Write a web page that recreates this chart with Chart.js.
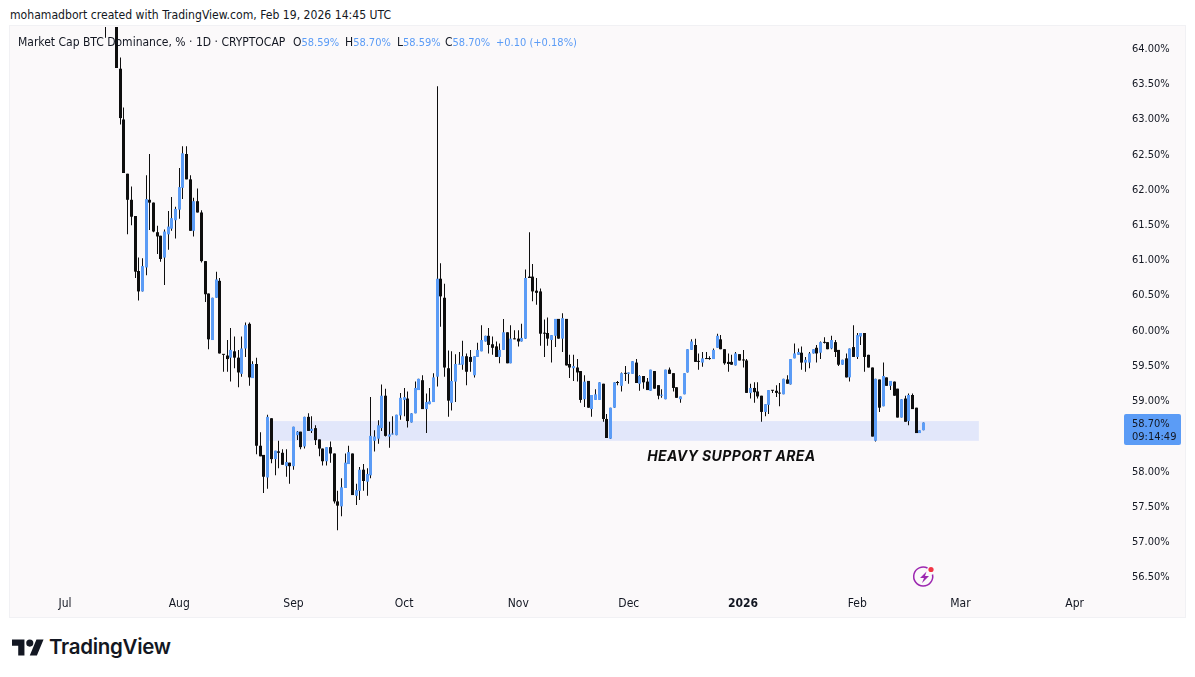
<!DOCTYPE html>
<html lang="en">
<head>
<meta charset="utf-8">
<title>Market Cap BTC Dominance</title>
<script src="https://cdn.jsdelivr.net/npm/chart.js@4"></script>
<style>
    html, body { margin: 0; padding: 0; background: #ffffff; }
    body { width: 1195px; height: 677px; position: relative; overflow: hidden; font-family: "DejaVu Sans Condensed", "Noto Sans", sans-serif; color: #131722; }
    #creado { position: absolute; left: 10px; top: 7px; font-size: 12.1px; line-height: 16px; white-space: nowrap; }
    #panel { position: absolute; left: 10px; top: 26px; width: 1175px; height: 591px; background: #fbf9fa; box-shadow: 0 0 0 1px #f1f1f4; }
    #caja { position: absolute; left: 0; top: 1px; width: 1175px; height: 590px; }
    .ley { position: absolute; top: 34px; font-size: 12px; line-height: 16px; white-space: nowrap; }
    .ley b { font-weight: 400; font-size: 11px; color: #5b9cf6; }
    #rayo { position: absolute; left: 912px; top: 565px; }
    #logo { position: absolute; left: 12px; top: 636px; }
    #marca { position: absolute; left: 49px; top: 633px; font-family: Inter, sans-serif; font-weight: 600; font-size: 20.5px; line-height: 28px; letter-spacing: -0.3px; color: #131722; }
</style>
</head>
<body>
<div id="creado">mohamadbort created with TradingView.com, Feb 19, 2026 14:45 UTC</div>
<div id="panel"><div id="caja"><canvas id="chartDominancia"></canvas></div></div>
<div class="ley" style="left:18px">Market Cap BTC Dominance, % · 1D · CRYPTOCAP</div>
<div class="ley" style="left:293px">O<b>58.59%</b></div>
<div class="ley" style="left:345px">H<b>58.70%</b></div>
<div class="ley" style="left:397px">L<b>58.59%</b></div>
<div class="ley" style="left:445px">C<b>58.70%</b></div>
<div class="ley" style="left:496px"><b>+0.10 (+0.18%)</b></div>
<svg id="rayo" width="26" height="24" viewBox="0 0 26 24">
    <path d="M20.5 9.5 A9.5 9.5 0 1 1 15.5 3" fill="none" stroke="#9c27b0" stroke-width="1.5"/>
    <path d="M14.5 6.5 L8 13 L12 13 L10 18 L17 11 L13 11 Z" fill="#9c27b0"/>
    <circle cx="19" cy="4.5" r="2.6" fill="#f23645"/>
</svg>
<svg id="logo" width="32" height="24" viewBox="0 0 36 27">
    <path d="M14 22H7V11H0V4h14v18zM28 22h-8l7.5-18h8L28 22z" fill="#131722"/>
    <circle cx="20" cy="8" r="4" fill="#131722"/>
</svg>
<div id="marca">TradingView</div>

<script>
// Velas diarias, la primera es del 12 jul 2025
const primeraVela = '2025-07-12';
const origenDias = '2025-07-01';

const opens = [
    65.10,64.95,64.80,64.60,63.72,63.00,62.23,61.86,61.63,60.85,
    60.56,60.90,61.86,61.82,61.40,61.35,61.04,61.37,61.45,61.57,
    61.72,62.03,62.51,62.15,61.42,61.84,61.68,60.99,60.53,59.87,
    60.47,60.71,59.67,59.65,59.62,59.71,59.62,59.39,59.75,60.10,
    59.33,59.53,58.37,58.24,57.92,58.76,58.18,58.29,58.27,58.08,
    58.13,58.08,58.52,58.57,58.36,58.78,58.58,58.62,58.46,58.33,
    58.15,58.35,58.26,57.58,57.51,57.77,58.11,58.26,57.66,57.73,
    58.03,57.86,57.95,58.44,58.47,58.62,59.08,58.50,58.53,58.52,
    58.80,59.02,59.04,58.70,58.83,59.16,59.30,58.89,58.96,58.99,
    59.35,60.74,60.47,59.47,58.98,59.28,59.52,59.52,59.64,59.63,
    59.37,59.63,59.71,59.85,59.93,59.81,59.78,59.63,59.73,59.98,
    59.54,59.89,59.89,59.85,59.89,60.77,60.77,60.57,60.56,59.97,
    59.97,59.87,59.93,60.17,59.89,60.17,59.53,59.47,59.48,59.43,
    59.03,59.29,58.89,59.02,59.02,59.25,58.75,58.47,58.91,59.27,
    59.22,59.40,59.39,59.39,59.55,59.25,59.36,59.28,59.15,59.43,
    59.23,59.08,59.03,59.45,59.40,59.20,59.03,59.10,59.41,59.73,
    59.80,59.57,59.55,59.61,59.61,59.60,59.76,59.88,59.74,59.56,
    59.56,59.51,59.67,59.59,59.58,59.12,59.19,59.14,59.08,58.85,
    58.95,59.16,59.15,59.12,59.10,59.31,59.24,59.61,59.66,59.69,
    59.55,59.55,59.68,59.76,59.69,59.84,59.84,59.75,59.84,59.73,
    59.52,59.61,59.34,59.77,59.63,59.92,59.97,59.66,59.48,58.44,
    59.31,58.93,59.34,59.22,59.28,59.18,58.77,59.04,58.72,59.09,
    58.91,58.55,58.59
];
const highs = [
    65.25,65.10,64.95,64.80,63.88,63.17,62.23,62.05,61.63,61.04,
    61.03,62.21,62.51,61.82,61.49,61.35,61.44,61.70,61.90,61.76,
    62.31,62.62,62.62,62.21,61.89,62.02,61.71,60.99,60.53,60.47,
    60.84,60.75,59.67,59.87,60.04,59.92,59.73,59.92,60.12,60.12,
    59.57,59.62,58.56,58.24,58.81,58.76,58.30,58.44,58.32,58.32,
    58.13,58.64,58.58,58.57,58.78,58.83,58.79,58.66,58.46,58.33,
    58.35,58.43,58.26,57.73,57.91,58.26,58.37,58.26,57.83,58.07,
    58.11,58.05,59.06,58.59,58.73,59.24,59.18,58.71,58.79,58.81,
    59.12,59.19,59.14,58.83,59.28,59.32,59.37,59.11,59.19,59.40,
    63.47,60.96,60.67,59.72,59.71,59.67,59.70,59.86,59.68,59.73,
    59.64,59.83,60.08,59.93,60.04,59.92,59.85,59.82,60.17,59.98,
    60.08,60.01,60.01,60.10,60.87,61.40,60.95,60.75,60.60,60.16,
    60.19,59.94,60.17,60.17,60.25,60.17,59.66,59.66,59.60,59.43,
    59.37,59.29,59.09,59.17,59.27,59.25,58.82,58.91,59.27,59.29,
    59.41,59.50,59.41,59.57,59.60,59.37,59.36,59.33,59.45,59.43,
    59.23,59.17,59.45,59.48,59.40,59.20,59.07,59.40,59.74,59.88,
    59.89,59.68,59.70,59.70,59.64,59.75,59.96,59.94,59.74,59.68,
    59.66,59.70,59.67,59.73,59.60,59.25,59.27,59.27,59.08,58.96,
    59.16,59.16,59.23,59.26,59.32,59.37,59.60,59.82,59.75,59.78,
    59.63,59.70,59.74,59.80,59.85,59.91,59.84,59.93,59.87,59.73,
    59.59,59.68,59.75,60.08,59.97,59.97,59.97,59.66,59.48,59.32,
    59.31,59.55,59.34,59.29,59.28,59.18,59.03,59.08,59.11,59.11,
    58.91,58.59,58.70
];
const lows = [
    64.16,64.70,64.50,63.73,62.93,62.24,61.37,61.50,60.75,60.43,
    60.56,60.79,61.43,61.40,61.09,60.98,60.65,61.15,61.42,61.31,
    61.59,61.87,62.15,61.42,61.34,61.68,60.97,60.41,59.74,59.87,
    60.47,59.68,59.42,59.42,59.28,59.47,59.20,59.35,59.63,59.22,
    59.33,58.25,58.22,57.70,57.76,58.12,57.95,58.05,58.10,57.93,
    57.83,58.03,58.45,58.32,58.33,58.58,58.55,58.38,58.22,58.09,
    58.09,58.13,57.55,57.17,57.37,57.77,58.11,57.67,57.53,57.60,
    57.73,57.66,57.91,58.29,58.40,58.58,58.50,58.34,58.53,58.52,
    58.74,58.79,58.63,58.70,58.83,59.16,58.89,58.55,58.96,58.99,
    59.21,60.06,59.35,58.78,58.87,58.99,59.52,59.45,59.23,59.42,
    59.34,59.63,59.71,59.85,59.68,59.66,59.63,59.54,59.73,59.54,
    59.54,59.88,59.78,59.85,59.89,60.75,60.42,60.37,59.79,59.63,
    59.79,59.55,59.77,59.89,59.70,59.51,59.33,59.29,59.28,58.98,
    58.92,58.91,58.78,59.02,59.02,58.71,58.48,58.47,58.91,59.23,
    59.14,59.29,59.25,59.39,59.26,59.15,59.18,59.16,59.15,59.18,
    59.03,59.05,59.03,59.39,59.14,59.05,58.98,59.10,59.41,59.73,
    59.56,59.45,59.49,59.60,59.59,59.60,59.76,59.74,59.52,59.42,
    59.52,59.51,59.58,59.48,59.12,59.04,58.98,59.04,58.71,58.79,
    58.82,59.12,59.06,58.93,59.10,59.25,59.24,59.61,59.66,59.45,
    59.42,59.47,59.68,59.55,59.60,59.82,59.74,59.74,59.63,59.50,
    59.52,59.34,59.28,59.63,59.60,59.80,59.42,59.48,58.50,58.43,
    58.85,58.93,59.22,59.16,59.08,58.77,58.77,58.71,58.66,58.89,
    58.55,58.55,58.59
];
const closes = [
    64.95,64.80,64.60,63.73,63.02,62.24,61.86,61.62,60.84,60.56,
    60.92,61.87,61.82,61.41,61.34,61.02,61.41,61.48,61.60,61.73,
    62.04,62.52,62.15,61.42,61.84,61.68,60.99,60.52,59.88,60.47,
    60.73,59.68,59.66,59.60,59.73,59.62,59.41,59.75,60.08,59.34,
    59.53,58.37,58.22,57.93,58.78,58.18,58.30,58.27,58.10,58.14,
    58.08,58.64,58.57,58.35,58.78,58.58,58.61,58.45,58.33,58.15,
    58.35,58.26,57.58,57.52,57.78,58.13,58.28,57.67,57.74,58.03,
    57.87,57.97,58.51,58.50,58.66,59.08,58.51,58.53,58.54,58.81,
    59.05,59.06,58.72,58.83,59.19,59.32,58.89,58.99,59.00,59.34,
    60.74,60.49,59.48,59.01,59.29,59.53,59.53,59.64,59.42,59.56,
    59.64,59.73,59.87,59.93,59.80,59.76,59.63,59.73,59.98,59.54,
    59.89,59.88,59.85,59.90,60.75,60.75,60.56,60.54,59.96,59.96,
    59.89,59.94,60.17,59.89,60.18,59.51,59.48,59.50,59.41,59.02,
    59.28,58.91,59.09,59.10,59.27,58.75,58.48,58.91,59.27,59.26,
    59.40,59.39,59.41,59.57,59.26,59.36,59.27,59.16,59.45,59.18,
    59.08,59.09,59.45,59.39,59.19,59.05,59.07,59.40,59.74,59.85,
    59.56,59.56,59.61,59.60,59.60,59.73,59.93,59.74,59.54,59.53,
    59.52,59.68,59.58,59.58,59.12,59.19,59.13,59.07,58.85,58.96,
    59.16,59.15,59.12,59.11,59.32,59.25,59.60,59.68,59.70,59.55,
    59.59,59.68,59.74,59.68,59.84,59.83,59.74,59.87,59.70,59.52,
    59.59,59.34,59.75,59.63,59.94,59.97,59.63,59.48,58.50,59.32,
    58.91,59.36,59.22,59.29,59.08,58.77,59.03,58.71,59.09,58.89,
    58.55,58.59,58.70
];

const mesesFechas = ['2025-07-01','2025-08-01','2025-09-01','2025-10-01','2025-11-01','2025-12-01','2026-01-01','2026-02-01','2026-03-01','2026-04-01'];
const mesesEtiquetas = ['Jul','Aug','Sep','Oct','Nov','Dec','2026','Feb','Mar','Apr'];
const preciosEje = [56.5,57,57.5,58,58.5,59,59.5,60,60.5,61,61.5,62,62.5,63,63.5,64];

// Zona de soporte
const soporteBajo = 58.44;
const soporteAlto = 58.72;
const soporteDesde = '2025-08-25';
const soporteHasta = '2026-03-06';
const soporteTexto = 'HEAVY SUPPORT AREA';
const soporteTextoFecha = '2025-12-06';
const soporteTextoPrecio = 58.22;

const ultimoPrecio = 58.70;
const cuentaAtras = '09:14:49';

const AZUL = '#5b9cf6';
const NEGRO = '#0e0e0e';
const FUENTE = '"DejaVu Sans Condensed", "Noto Sans", sans-serif';

function diaDe(fecha) {
    return (Date.parse(fecha) - Date.parse(origenDias)) / 86400000;
}

const dias = opens.map((_, i) => diaDe(primeraVela) + i);
const cuerpos = opens.map((o, i) => ({ x: dias[i], y: [o, closes[i]] }));
const mechas = highs.map((h, i) => ({ x: dias[i], y: [lows[i], h] }));
const coloresCuerpo = opens.map((o, i) => closes[i] >= o ? AZUL : NEGRO);

// Centra velas y mechas en pixel entero para que queden nítidas
const ajustePixel = {
    id: 'ajustePixel',
    afterDatasetsUpdate(chart) {
        chart.data.datasets.forEach((_, i) => {
            chart.getDatasetMeta(i).data.forEach(el => { el.x = Math.floor(el.x) + 0.5; });
        });
    }
};

const zonaSoporte = {
    id: 'zonaSoporte',
    beforeDatasetsDraw(chart) {
        const { ctx, scales: { x, y } } = chart;
        const x1 = x.getPixelForValue(diaDe(soporteDesde));
        const x2 = x.getPixelForValue(diaDe(soporteHasta));
        const y1 = y.getPixelForValue(soporteAlto);
        const y2 = y.getPixelForValue(soporteBajo);
        ctx.save();
        ctx.fillStyle = '#e2e7fa';
        ctx.fillRect(x1, y1, x2 - x1, y2 - y1);
        ctx.restore();
    },
    afterDraw(chart) {
        const { ctx, scales: { x, y } } = chart;
        ctx.save();
        ctx.font = 'italic 700 14px Inter, sans-serif';
        ctx.letterSpacing = '0.4px';
        ctx.fillStyle = '#0e0e0e';
        ctx.textBaseline = 'middle';
        ctx.fillText(soporteTexto, x.getPixelForValue(diaDe(soporteTextoFecha)), y.getPixelForValue(soporteTextoPrecio));
        ctx.restore();
    }
};

const etiquetaPrecio = {
    id: 'etiquetaPrecio',
    afterDraw(chart) {
        const { ctx, chartArea, scales: { y } } = chart;
        const py = Math.round(y.getPixelForValue(ultimoPrecio));
        const px = chartArea.right + 4;
        ctx.save();
        ctx.fillStyle = AZUL;
        ctx.beginPath();
        ctx.roundRect(px, py - 8, 57, 31, 2);
        ctx.fill();
        ctx.fillStyle = '#131722';
        ctx.font = '11px ' + FUENTE;
        ctx.textBaseline = 'middle';
        ctx.fillText(ultimoPrecio.toFixed(2) + '%', px + 8, py + 2);
        ctx.fillText(cuentaAtras, px + 8, py + 15);
        ctx.restore();
    }
};

new Chart(document.getElementById('chartDominancia').getContext('2d'), {
    type: 'bar',
    data: {
        datasets: [
            { label: 'Mechas', data: mechas, backgroundColor: NEGRO, barThickness: 1, grouped: false, inflateAmount: 0, order: 2 },
            { label: 'Cuerpos', data: cuerpos, backgroundColor: coloresCuerpo, barThickness: 3, grouped: false, inflateAmount: 0, minBarLength: 1, order: 1 }
        ]
    },
    options: {
        responsive: true,
        maintainAspectRatio: false,
        animation: false,
        layout: { padding: 0 },
        plugins: { legend: { display: false }, tooltip: { enabled: false } },
        scales: {
            x: {
                type: 'linear',
                offset: false,
                min: -14.93,
                max: 286.3,
                grid: { display: false, drawTicks: false },
                border: { display: false },
                afterFit: s => { s.height = 27; s.paddingLeft = 0; s.paddingRight = 0; },
                afterBuildTicks: s => { s.ticks = mesesFechas.map(f => ({ value: diaDe(f) })); },
                ticks: {
                    autoSkip: false,
                    maxRotation: 0,
                    padding: 7,
                    color: '#131722',
                    font: ctx => ({
                        family: FUENTE,
                        size: 12,
                        weight: ctx.tick && ctx.tick.value === diaDe('2026-01-01') ? 'bold' : 'normal'
                    }),
                    callback: (v, i) => mesesEtiquetas[i]
                }
            },
            y: {
                position: 'right',
                min: 56.323,
                max: 64.312,
                grid: { display: false, drawTicks: false },
                border: { display: false },
                afterFit: s => { s.width = 65; s.paddingTop = 0; s.paddingBottom = 0; },
                afterBuildTicks: s => { s.ticks = preciosEje.map(p => ({ value: p })); },
                ticks: {
                    padding: 12,
                    color: '#131722',
                    font: { family: FUENTE, size: 11 },
                    callback: v => v.toFixed(2) + '%'
                }
            }
        }
    },
    plugins: [ajustePixel, zonaSoporte, etiquetaPrecio]
});
</script>
</body>
</html>
